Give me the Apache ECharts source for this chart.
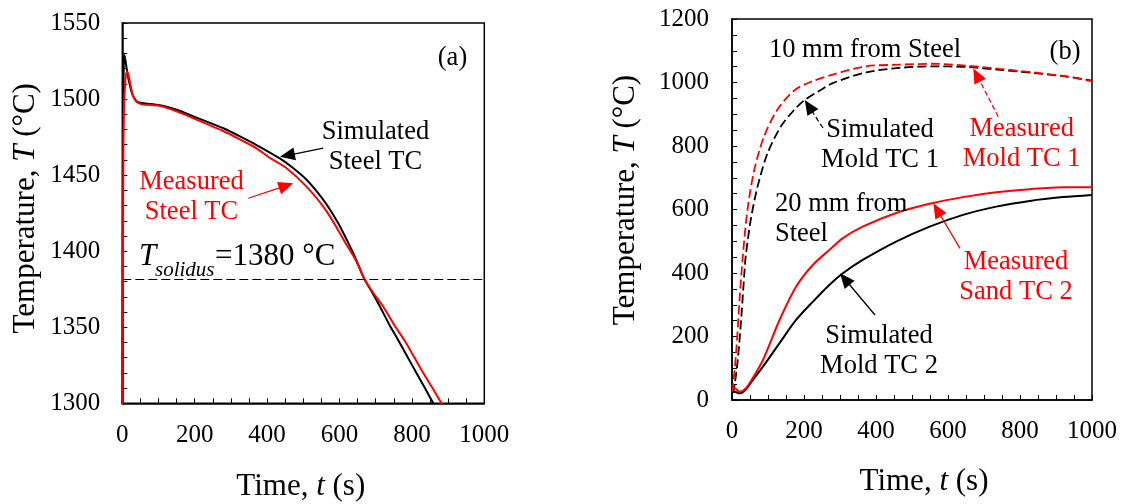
<!DOCTYPE html>
<html><head><meta charset="utf-8">
<script src="https://cdn.jsdelivr.net/npm/echarts@6.0.0/dist/echarts.min.js"></script>
<style>html,body{margin:0;padding:0;background:#fff}#c{width:1125px;height:504px}</style>
</head><body><div id="c"></div>
<script>
// ---- Panel (a): steel thermocouple, [time s, temperature °C]
const simSteelTC = [[0,1290],[2,1470],[4,1522],[6,1529],[9,1525],[14,1517],[20,1510],[28,1503],[38,1499],[49,1497.6],[104,1496],[150,1493],[187,1489.5],[230,1485.5],[279,1480.8],[325,1475.5],[371,1469.8],[435,1461],[470,1455],[509,1447],[540,1438.5],[565,1430.5],[595,1419],[620,1407.5],[645,1395],[668,1382],[690,1373],[712,1363.5],[737,1352],[762,1341.6],[788,1330.5],[813,1319.7],[836,1310],[859,1300],[870,1295]];
const measSteelTC = [[0,1290],[2,1400],[3,1465],[5,1497],[8,1510],[12,1518],[16,1517],[22,1510],[30,1502],[40,1498],[55,1496.5],[104,1495.5],[150,1492],[187,1488.4],[230,1484],[279,1479],[325,1473.5],[371,1467.6],[410,1461],[454,1454.5],[509,1442.4],[565,1426],[620,1404],[645,1394],[668,1382],[695,1372],[721,1363.5],[750,1352],[779,1341.6],[805,1331],[832,1319.7],[857,1310],[882,1300],[890,1297]];
const solidusT = 1381.5;
// ---- Panel (b): mold thermocouples
const simMoldTC1 = [[0,20],[5,32],[16,126],[26,263],[35,410],[38,452],[52,567],[71,672],[99,778],[136,862],[173,914],[202,945],[240,972],[280,998],[373,1032],[465,1046],[558,1051],[651,1049],[743,1040],[836,1030],[928,1019],[1000,1006]];
const measMoldTC1 = [[0,25],[2,32],[12,158],[21,315],[30,452],[43,599],[62,725],[89,830],[126,914],[173,975],[219,1002],[280,1025],[373,1051],[465,1056],[558,1059],[651,1053],[743,1043],[836,1032],[928,1019],[1000,1004]];
const simMoldTC2 = [[0,25],[7,26],[21,21],[35,29],[58,63],[86,105],[132,179],[178,252],[225,310],[271,363],[308,399],[363,441],[456,499],[549,546],[642,583],[734,609],[827,627],[919,639],[1000,646]];
const measSandTC2 = [[0,35],[7,37],[21,26],[35,33],[49,53],[86,126],[132,252],[178,357],[225,426],[271,473],[308,510],[363,546],[456,589],[549,618],[642,639],[734,654],[827,664],[919,670],[1000,670]];
// ---- Tick settings
const xTicks = {min:0, max:1000, interval:200, minor:4};
const yTicksA = {min:1300, max:1550, interval:50, minor:5};
const yTicksB = {min:0, max:1200, interval:200, minor:4};

const FONT = '"Liberation Serif","Times New Roman",serif';
function axis(grid, t, margin){
  return {
    type:'value', gridIndex:grid, min:t.min, max:t.max, interval:t.interval,
    axisLine:{show:true,onZero:false,lineStyle:{color:'#000',width:1.5}},
    axisTick:{show:true,inside:true,length:5,lineStyle:{color:'#000',width:1}},
    minorTick:{show:true,splitNumber:t.minor,length:5,lineStyle:{color:'#000',width:1}},
    splitLine:{show:false}, minorSplitLine:{show:false},
    axisLabel:{color:'#000',fontFamily:FONT,fontSize:25,margin:margin,formatter:v=>String(v)}
  };
}
function line(data, xi, color, dashed, w){
  return {type:'line', xAxisIndex:xi, yAxisIndex:xi, data:data, showSymbol:false, symbol:'none',
    smooth:0.3, clip:true,
    lineStyle:{color:color,width:w||2,type:dashed?[9,4]:'solid'}, silent:true};
}
const chart = echarts.init(document.getElementById('c'), null, {renderer:'canvas'});
const sA = line(simSteelTC,0,'#000',false);
sA.markLine = {silent:true, symbol:'none', label:{show:false},
  lineStyle:{color:'#000',type:[9,4],width:1.2}, data:[{yAxis:solidusT}]};
chart.setOption({
  animation:false,
  grid:[
    {left:122.3, top:23, width:362, height:380.3, show:true, borderColor:'#000', borderWidth:1.5},
    {left:732, top:19, width:360, height:381, show:true, borderColor:'#000', borderWidth:1.5}
  ],
  xAxis:[axis(0,xTicks,20), axis(1,xTicks,19)],
  yAxis:[axis(0,yTicksA,22), axis(1,yTicksB,23)],
  series:[
    sA, line(measSteelTC,0,'#f00',false),
    line(simMoldTC1,1,'#000',true,1.8), line(measMoldTC1,1,'#f00',true,1.8),
    line(simMoldTC2,1,'#000',false), line(measSandTC2,1,'#f00',false)
  ]
});

// ---- Annotations
const arrows = [
  {g:0, from:[555,1467.7], to:[435.6,1462], c:'#000', dash:false},
  {g:0, from:[348,1434.8], to:[472.4,1444.6], c:'#f00', dash:false},
  {g:1, from:[252.8,856.7], to:[202,945], c:'#000', dash:true},
  {g:1, from:[739.7,892.3], to:[670.3,1044.7], c:'#f00', dash:true},
  {g:1, from:[633.3,477.8], to:[559.2,619.5], c:'#f00', dash:false},
  {g:1, from:[397.2,267.7], to:[300,399], c:'#000', dash:false}
];
const labels = [
  {t:'(a)', x:452.5, y:58.3, c:'#000', align:'center'},
  {t:'Simulated\nSteel TC', x:375.5, y:147.2, c:'#000', align:'center'},
  {t:'Measured\nSteel TC', x:191.5, y:197.2, c:'#f00', align:'center'},
  {t:'10 mm from Steel', x:865, y:50, c:'#000', align:'center'},
  {t:'(b)', x:1065, y:51.7, c:'#000', align:'center'},
  {t:'Simulated\nMold TC 1', x:880, y:144.7, c:'#000', align:'center'},
  {t:'Measured\nMold TC 1', x:1021.7, y:143.8, c:'#f00', align:'center'},
  {t:'20 mm from\nSteel', x:775, y:219, c:'#000', align:'left'},
  {t:'Measured\nSand TC 2', x:1016, y:277.3, c:'#f00', align:'center'},
  {t:'Simulated\nMold TC 2', x:879, y:350.8, c:'#000', align:'center'}
];
const G = [];
arrows.forEach(a=>{
  const p0 = chart.convertToPixel({gridIndex:a.g}, a.from);
  const p1 = chart.convertToPixel({gridIndex:a.g}, a.to);
  const dx=p1[0]-p0[0], dy=p1[1]-p0[1], L=Math.hypot(dx,dy), ux=dx/L, uy=dy/L;
  const hl=15, hw=6.5;
  const b=[p1[0]-ux*hl, p1[1]-uy*hl];
  G.push({type:'line', silent:true, z:20, shape:{x1:p0[0],y1:p0[1],x2:b[0]+ux*2,y2:b[1]+uy*2},
    style:{stroke:a.c, lineWidth:1.3, lineDash:a.dash?[5,3]:null}});
  G.push({type:'polygon', silent:true, z:20, shape:{points:[p1,[b[0]-uy*hw,b[1]+ux*hw],[b[0]+uy*hw,b[1]-ux*hw]]},
    style:{fill:a.c}});
});
labels.forEach(l=>{
  G.push({type:'text', silent:true, z:20, style:{text:l.t, x:l.x, y:l.y, fill:l.c, fontFamily:FONT, fontSize:26.5,
    lineHeight:30, align:l.align, verticalAlign:'middle'}});
});
// T_solidus label
G.push({type:'text', silent:true, z:20, style:{text:'T', x:147.5, y:256.7, fill:'#000', fontFamily:FONT, fontSize:31, fontStyle:'italic', align:'center', verticalAlign:'middle'}});
G.push({type:'text', silent:true, z:20, style:{text:'solidus', x:155, y:270, fill:'#000', fontFamily:FONT, fontSize:21, fontStyle:'italic', align:'left', verticalAlign:'middle'}});
G.push({type:'text', silent:true, z:20, style:{text:'=1380 °C', x:215, y:256.7, fill:'#000', fontFamily:FONT, fontSize:31, align:'left', verticalAlign:'middle'}});
// Axis titles
const rich = {a:{fontFamily:FONT,fontSize:31,fill:'#000'}, i:{fontFamily:FONT,fontSize:31,fontStyle:'italic',fill:'#000'}};
function title(txt, x, y, rot){
  return {type:'text', silent:true, x:x, y:y, rotation:rot, style:{text:txt, rich:rich, fontFamily:FONT, fontSize:31, fill:'#000', align:'center', verticalAlign:'middle'}};
}
G.push(title('{a|Temperature, }{i|T}{a| (°C)}', 26, 208.3, Math.PI/2));
G.push(title('{a|Temperature, }{i|T}{a| (°C)}', 626, 200, Math.PI/2));
G.push(title('{a|Time, }{i|t}{a| (s)}', 300.8, 486.7, 0));
G.push(title('{a|Time, }{i|t}{a| (s)}', 924, 481.7, 0));
chart.setOption({graphic:G});
</script></body></html>
